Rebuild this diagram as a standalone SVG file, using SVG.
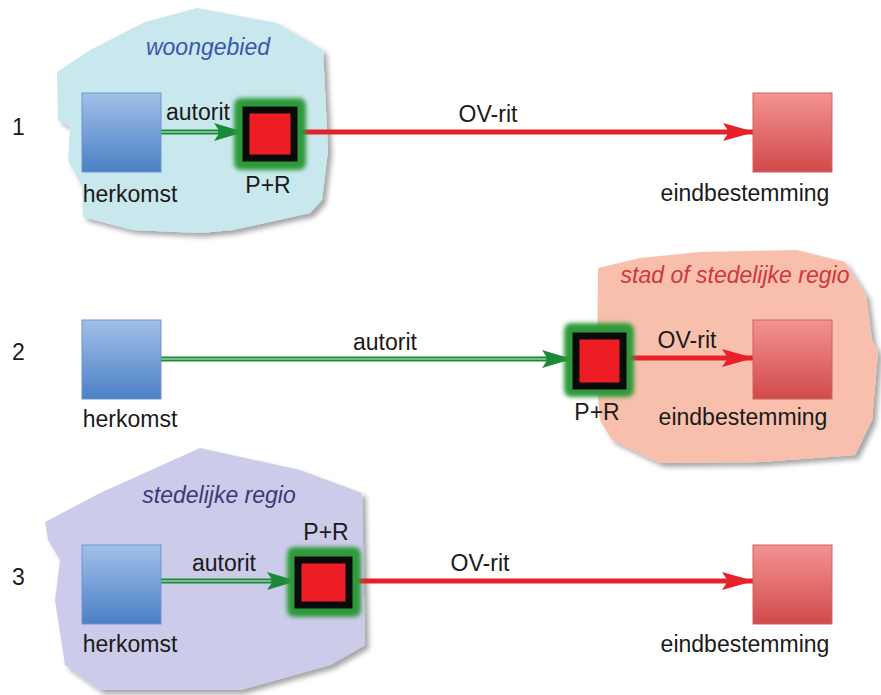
<svg xmlns="http://www.w3.org/2000/svg" width="881" height="695" viewBox="0 0 881 695">
<defs>
<linearGradient id="gBlue" x1="0" y1="0" x2="0" y2="1"><stop offset="0" stop-color="#a2c0e8"/><stop offset="1" stop-color="#4a80c6"/></linearGradient>
<linearGradient id="gRed" x1="0" y1="0" x2="0" y2="1"><stop offset="0" stop-color="#f39393"/><stop offset="1" stop-color="#d14a4a"/></linearGradient>
<filter id="shadow" x="-10%" y="-10%" width="125%" height="125%"><feDropShadow dx="4" dy="4" stdDeviation="2.5" flood-color="#000" flood-opacity="0.35"/></filter>
<filter id="glow" x="-40%" y="-40%" width="180%" height="180%"><feGaussianBlur stdDeviation="2"/></filter>
<marker id="aRed" markerWidth="32" markerHeight="18" refX="32" refY="9" orient="auto" markerUnits="userSpaceOnUse"><path d="M0,0 L32,9 L0,18 L6,9 Z" fill="#e8202a"/></marker>
<marker id="aGreen" markerWidth="30" markerHeight="18" refX="30" refY="9" orient="auto" markerUnits="userSpaceOnUse"><path d="M0,0 L30,9 L0,18 L6,9 Z" fill="#1a8a3a"/></marker>
</defs>
<style>
text{font-family:"Liberation Sans",Arial,sans-serif;font-size:23px;fill:#1a1a1a}
.c{text-anchor:middle}
.reg{font-style:italic}
.ov{stroke:#e8202a;stroke-width:5;fill:none}
.car{stroke:#1a8a3a;stroke-width:5;fill:none}
.carIn{stroke:#d8f0d8;stroke-width:1.2;fill:none}
.blue{fill:url(#gBlue);stroke:#6c95cf;stroke-width:1}
.dest{fill:url(#gRed);stroke:#d06060;stroke-width:1}
.prGlow{fill:#2f9a3a;filter:url(#glow)}
.pr{fill:#ee1c24;stroke:#0a0a0a;stroke-width:7}
</style>
<rect width="881" height="695" fill="#ffffff"/>

<g id="region1">
<polygon filter="url(#shadow)" fill="#c8e8ee" points="57,72 90,50 145,22 197,8 277,23 323,50 328,150 322,200 310,213 233,230 200,233 133,230 83,217 82,187 68,160 70,127 58,120"/>
<text class="c reg" x="208" y="55" style="fill:#3b55b0">woongebied</text>
</g>
<g id="region2">
<polygon filter="url(#shadow)" fill="#f8c0ac" points="598,268 640,258 700,252 797,250 845,262 866,295 872,340 878,352 872,420 855,455 760,462 660,463 612,440 600,420 597,385"/>
<text class="c reg" x="735" y="283" style="fill:#d0363a">stad of stedelijke regio</text>
</g>
<g id="region3">
<polygon filter="url(#shadow)" fill="#ccccea" points="45,522 100,493 200,448 300,470 362,493 365,645 330,665 240,690 100,690 65,665 55,600 60,560 48,540"/>
<text class="c reg" x="219" y="503" style="fill:#3a3a7a">stedelijke regio</text>
</g>

<g id="connectors">
<line class="car" x1="161" y1="132" x2="244" y2="132" marker-end="url(#aGreen)"/>
<line class="carIn" x1="161" y1="132" x2="218" y2="132"/>
<line class="ov" x1="297" y1="132" x2="755" y2="132" marker-end="url(#aRed)"/>
<line class="car" x1="161" y1="359" x2="572" y2="359" marker-end="url(#aGreen)"/>
<line class="carIn" x1="161" y1="359" x2="546" y2="359"/>
<line class="ov" x1="626" y1="358" x2="754" y2="358" marker-end="url(#aRed)"/>
<line class="car" x1="161" y1="581" x2="297" y2="581" marker-end="url(#aGreen)"/>
<line class="carIn" x1="161" y1="581" x2="271" y2="581"/>
<line class="ov" x1="353" y1="581" x2="754" y2="581" marker-end="url(#aRed)"/>
<text class="c" x="198" y="120">autorit</text>
<text class="c" x="488" y="122">OV-rit</text>
<text class="c" x="385" y="350">autorit</text>
<text class="c" x="687" y="348">OV-rit</text>
<text class="c" x="224" y="571">autorit</text>
<text class="c" x="480" y="571">OV-rit</text>
</g>

<g id="labels">
<text x="12" y="135">1</text>
<text x="12" y="360">2</text>
<text x="12" y="585">3</text>
</g>

<g id="herkomst1"><rect class="blue" x="82" y="93" width="79" height="79"/><text class="c" x="130" y="202">herkomst</text></g>
<g id="pr1"><rect class="prGlow" x="234" y="98" width="72" height="72" rx="7"/><rect class="pr" x="246" y="110" width="48" height="48"/><text class="c" x="268" y="193">P+R</text></g>
<g id="dest1"><rect class="dest" x="753" y="93" width="79" height="79"/><text class="c" x="745" y="201">eindbestemming</text></g>

<g id="herkomst2"><rect class="blue" x="82" y="320" width="79" height="79"/><text class="c" x="130" y="427">herkomst</text></g>
<g id="pr2"><rect class="prGlow" x="564" y="323" width="70" height="74" rx="7"/><rect class="pr" x="576" y="336" width="47" height="50"/><text class="c" x="597" y="420">P+R</text></g>
<g id="dest2"><rect class="dest" x="753" y="320" width="79" height="79"/><text class="c" x="743" y="425">eindbestemming</text></g>

<g id="herkomst3"><rect class="blue" x="82" y="545" width="79" height="79"/><text class="c" x="130" y="652">herkomst</text></g>
<g id="pr3"><rect class="prGlow" x="287" y="547" width="74" height="70" rx="7"/><rect class="pr" x="298" y="560" width="51" height="45"/><text class="c" x="326" y="540">P+R</text></g>
<g id="dest3"><rect class="dest" x="753" y="545" width="79" height="79"/><text class="c" x="745" y="652">eindbestemming</text></g>
</svg>
